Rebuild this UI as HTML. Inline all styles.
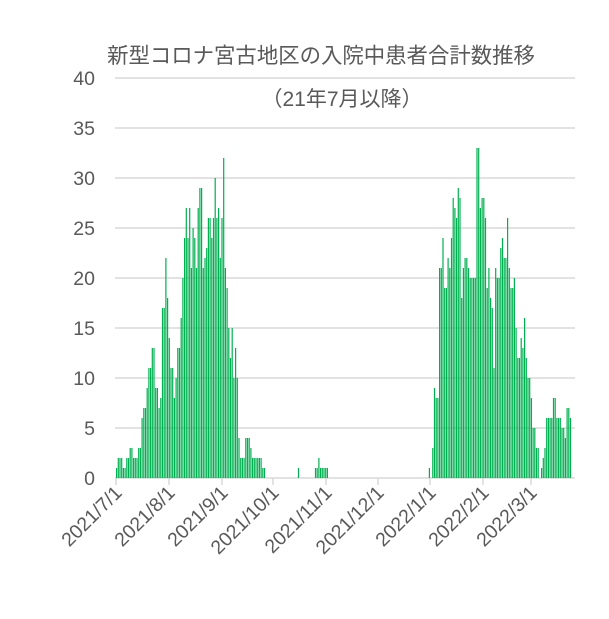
<!DOCTYPE html><html><head><meta charset="utf-8"><style>body{margin:0;background:#fff}</style></head><body>
<svg id="s" width="609" height="614" xmlns="http://www.w3.org/2000/svg" font-family="Liberation Sans, Noto Sans CJK JP, sans-serif">
<text x="321" y="63" text-anchor="middle" font-size="21.4" fill="#595959">新型コロナ宮古地区の入院中患者合計数推移</text>
<text x="342" y="106" text-anchor="middle" font-size="21" fill="#595959">（21年7月以降）</text>
<g id="grid"></g><g id="bars" fill="#00b050"></g><g id="lab" font-size="19.5" fill="#595959"></g>
</svg>
<script>
const g=document.getElementById('grid'),b=document.getElementById('bars'),l=document.getElementById('lab');
let h='';
for(let v=0;v<=40;v+=5){const y=478-v*10;h+=`<line x1="115" x2="575" y1="${y}" y2="${y}" stroke="#d9d9d9" stroke-width="1.5"/>`;
l.innerHTML+=`<text x="95" y="${y+7}" text-anchor="end">${v}</text>`;}
g.innerHTML=h;
const w1=[1,2,2,2,1,1,2,2,3,3,2,2,2,3,3,6,7,7,9,11,11,13,13,9,9,7,8,17,17,22,18,
14,11,11,8,10,13,13,16,20,24,27,24,27,21,25,24,21,27,29,29,21,22,23,26,26,24,26,30,26,27,22,26,32,21,19,
15,12,15,10,13,10,4,2,2,2,4,4,4,3,2,2,2,2,2,2,1,1];
const w2=[1,0,3,9,8,8,21,21,24,19,19,22,21,24,28,27,26,29,28,18,21,22,22,21,20,20,20,20,33,33,27,28,28,26,19,21,18,17,11,21,20,20,23,24,22,22,26,21,19,19,20,15,12,12,14,13,16,12,10,10,8,5,5,3,3,0,1,2,3,6,6,6,6,8,8,6,6,6,5,5,4,7,7,6];
const px=1.70,x0=116;let s='';
function put(arr,start){arr.forEach((v,i)=>{if(v>0){const x=x0+(start+i)*px;s+=`<rect x="${x.toFixed(2)}" y="${478-v*10}" width="1.2" height="${v*10}"/>`;}});}
put(w1,0);put([1],107);put([1,1,2,1,1,1,1,1],117);put(w2,184);
b.innerHTML=s;
const ticks=[[116,'2021/7/1'],[169,'2021/8/1'],[222,'2021/9/1'],[273,'2021/10/1'],[326,'2021/11/1'],[378,'2021/12/1'],[430,'2022/1/1'],[483,'2022/2/1'],[531,'2022/3/1']];
let t='';ticks.forEach(([x,s])=>{t+=`<line x1="${x}" x2="${x}" y1="478" y2="485" stroke="#d9d9d9" stroke-width="1.5"/>`;
l.innerHTML+=`<text transform="translate(${x+7},${494}) rotate(-45)" text-anchor="end">${s}</text>`;});
g.innerHTML+=t;
</script>
</body></html>
